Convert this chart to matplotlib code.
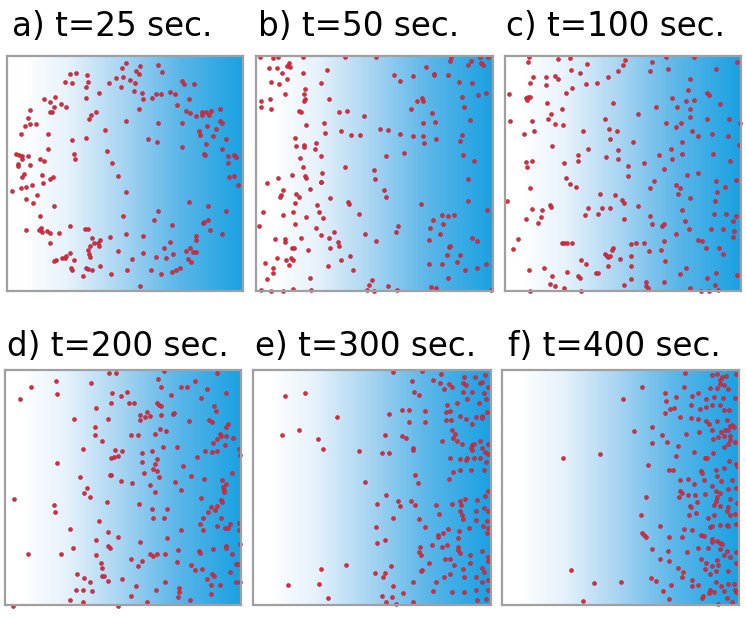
import numpy as np
import matplotlib
matplotlib.use("Agg")
import matplotlib.pyplot as plt
from matplotlib.colors import LinearSegmentedColormap

# panel titles
titles = ["a) t=25 sec.", "b) t=50 sec.", "c) t=100 sec.",
          "d) t=200 sec.", "e) t=300 sec.", "f) t=400 sec."]

# particle positions (x to the right, y downwards)
pts_a = [(378,40),(366,55),(420,48),(474,45),(410,62),(488,67),(418,72),(210,72),(228,70),(262,74),(350,83),(370,82),(392,90),(196,96),(218,98),(266,96),(328,98),(406,98),(548,92),(552,102),(584,102),(260,110),(364,112),(404,122),(428,130),(470,133),(484,133),(512,127),(526,133),(298,130),(132,146),(166,140),(150,156),(258,144),(430,146),(456,144),(568,146),(184,162),(198,172),(162,172),(156,186),(152,186),(90,180),(288,186),(274,194),(268,208),(418,178),(532,164),(560,182),(570,190),(606,186),(620,186),(634,182),(660,178),(588,198),(606,194),(628,196),(84,204),(76,228),(92,222),(108,222),(378,214),(474,220),(548,218),(622,228),(660,212),(668,220),(144,252),(64,252),(316,240),(258,264),(218,270),(446,268),(472,276),(598,244),(602,254),(648,238),(640,258),(680,268),(546,292),(620,282),(144,296),(50,312),(58,314),(66,318),(84,318),(68,326),(120,326),(132,334),(222,312),(226,326),(322,304),(614,312),(616,316),(666,298),(684,318),(704,314),(708,320),(56,342),(54,348),(92,346),(338,340),(684,338),(126,374),(72,372),(66,380),(160,380),(150,386),(356,378),(688,380),(702,376),(714,404),(38,422),(64,412),(78,410),(98,404),(130,398),(80,446),(112,434),(378,424),(100,458),(164,466),(568,454),(626,468),(678,482),(120,496),(370,498),(462,508),(474,482),(516,524),(610,518),(614,514),(626,508),(632,538),(80,538),(118,540),(124,532),(128,544),(142,542),(152,548),(178,548),(212,528),(256,536),(264,536),(332,560),(380,552),(430,556),(590,556),(588,568),(668,552),(150,578),(276,564),(300,570),(282,578),(270,586),(264,598),(296,578),(298,586),(510,574),(492,592),(520,610),(560,602),(572,592),(580,606),(588,606),(564,626),(574,634),(354,602),(430,608),(470,620),(500,624),(168,628),(164,632),(186,622),(196,622),(200,616),(212,608),(222,630),(214,652),(218,658),(268,612),(270,620),(398,626),(258,652),(264,656),(276,658),(300,648),(382,660),(454,660),(516,664),(528,660),(542,652),(334,670),(484,670),(250,678),(420,706)]

pts_b = [(30,20),(70,24),(84,22),(160,22),(286,22),(380,20),(604,22),(690,22),(714,20),(600,32),(664,34),(654,44),(694,40),(700,44),(116,40),(112,48),(120,50),(56,54),(80,54),(158,68),(232,60),(96,70),(110,86),(64,96),(86,102),(214,100),(432,74),(452,92),(490,78),(530,52),(552,72),(554,76),(596,74),(628,96),(666,100),(164,116),(162,132),(164,146),(162,152),(104,132),(34,152),(60,148),(32,172),(64,176),(238,146),(502,154),(516,144),(520,152),(636,140),(686,136),(710,130),(146,184),(152,186),(266,186),(292,184),(342,198),(484,178),(548,188),(644,172),(168,226),(222,218),(520,220),(556,216),(662,210),(274,242),(302,256),(330,256),(390,238),(414,240),(452,252),(490,258),(520,258),(524,278),(558,268),(636,256),(632,274),(226,250),(136,264),(198,278),(138,288),(162,284),(162,292),(194,298),(214,318),(410,318),(462,310),(640,314),(674,332),(150,324),(286,350),(158,352),(126,374),(164,378),(168,384),(216,368),(84,384),(50,398),(212,394),(212,396),(372,360),(374,386),(654,386),(180,416),(98,420),(92,434),(90,440),(138,430),(146,440),(240,444),(402,420),(410,440),(656,452),(134,458),(202,464),(294,456),(296,462),(514,460),(38,486),(100,494),(130,486),(168,500),(208,484),(220,504),(326,490),(576,494),(594,498),(614,494),(712,480),(26,526),(136,520),(198,534),(446,526),(550,508),(580,522),(540,534),(440,546),(212,554),(252,544),(346,552),(378,572),(570,552),(668,562),(682,572),(74,566),(106,566),(104,574),(152,564),(236,562),(264,576),(268,588),(538,570),(598,590),(602,586),(126,592),(132,594),(174,598),(240,592),(592,614),(630,614),(44,638),(80,624),(108,628),(124,624),(130,628),(274,630),(300,618),(118,644),(234,646),(538,640),(578,640),(622,636),(710,642),(70,652),(68,668),(310,660),(646,658),(682,654),(50,686),(180,682),(366,688),(596,684),(34,720),(64,722),(98,722),(128,716),(184,718),(356,704),(352,718),(372,722),(414,706),(442,718),(544,710),(560,712),(724,720)]

pts_c = [(94,20),(180,26),(218,24),(504,20),(588,22),(92,36),(268,42),(382,30),(376,44),(464,36),(458,62),(510,56),(656,56),(718,36),(220,60),(246,68),(106,80),(144,80),(172,78),(180,86),(332,80),(362,62),(578,86),(98,98),(146,104),(264,102),(298,98),(222,114),(206,128),(34,132),(84,144),(92,140),(98,140),(88,150),(570,120),(628,130),(634,134),(524,144),(566,152),(588,150),(668,162),(148,160),(346,160),(474,172),(538,170),(576,176),(192,178),(160,192),(150,206),(36,212),(104,214),(172,222),(196,224),(322,208),(420,192),(504,218),(550,220),(578,202),(628,208),(694,208),(726,220),(334,236),(358,242),(256,242),(110,242),(78,252),(536,232),(584,242),(600,258),(642,252),(692,258),(336,266),(406,276),(554,276),(162,288),(270,298),(360,300),(520,298),(724,286),(240,316),(326,322),(362,328),(484,316),(552,312),(524,326),(646,312),(84,336),(102,334),(88,352),(198,338),(242,332),(392,348),(440,340),(498,358),(696,332),(206,382),(392,378),(470,392),(568,374),(602,368),(656,392),(714,388),(218,400),(234,410),(96,414),(458,412),(534,404),(546,412),(682,410),(308,432),(352,434),(374,448),(380,458),(540,432),(576,442),(658,424),(28,452),(156,464),(160,470),(132,478),(272,472),(314,472),(336,472),(422,468),(554,478),(652,452),(102,476),(262,494),(300,492),(130,500),(84,506),(122,518),(456,498),(464,520),(492,526),(498,522),(380,506),(562,512),(574,536),(648,492),(684,492),(714,498),(706,512),(536,550),(640,536),(676,536),(708,542),(706,560),(62,566),(46,596),(194,578),(200,578),(208,578),(224,578),(416,578),(440,578),(498,572),(602,568),(612,572),(346,594),(344,598),(400,580),(454,602),(490,600),(626,594),(664,592),(676,610),(322,612),(328,618),(332,620),(336,618),(250,628),(366,626),(400,618),(502,632),(264,640),(94,660),(138,654),(208,666),(294,668),(302,668),(330,646),(400,646),(548,672),(564,652),(654,668),(718,674),(164,676),(242,678),(248,682),(400,686),(444,694),(498,694),(628,684),(158,700),(172,706),(200,712),(380,704),(444,708),(450,712),(576,712),(652,704),(98,722),(250,722),(610,722),(634,722),(660,720)]

pts_d = [(326,34),(346,34),(492,26),(652,32),(166,58),(272,64),(90,76),(544,74),(562,74),(584,56),(474,50),(484,74),(620,80),(680,94),(58,112),(168,96),(334,92),(362,102),(380,90),(386,122),(400,122),(514,98),(602,108),(332,124),(472,122),(476,128),(482,132),(644,132),(288,138),(648,146),(440,150),(420,158),(418,174),(434,166),(450,162),(482,160),(518,156),(522,152),(220,170),(322,172),(566,176),(628,174),(636,180),(684,186),(680,196),(284,196),(284,218),(392,220),(412,220),(466,216),(480,202),(498,206),(660,216),(664,222),(678,222),(652,230),(700,228),(306,238),(488,256),(532,256),(640,242),(676,248),(248,260),(344,264),(364,266),(456,266),(426,272),(616,268),(636,270),(652,266),(718,262),(722,278),(332,288),(340,286),(352,282),(592,286),(426,300),(470,290),(548,312),(464,306),(170,304),(458,322),(472,326),(430,332),(332,338),(330,340),(478,346),(572,342),(612,352),(696,332),(238,346),(362,358),(396,362),(450,370),(524,360),(666,354),(258,378),(250,394),(268,406),(464,390),(542,384),(670,374),(678,366),(672,386),(674,390),(40,412),(160,430),(162,452),(320,420),(416,428),(604,408),(664,416),(666,420),(456,442),(502,442),(610,468),(634,436),(646,444),(652,432),(624,452),(664,470),(296,478),(460,470),(492,470),(600,486),(208,502),(324,510),(352,526),(420,540),(502,530),(542,504),(610,506),(652,494),(676,498),(690,486),(684,500),(718,484),(718,504),(286,536),(218,560),(322,554),(330,560),(80,578),(182,578),(288,580),(392,592),(450,576),(458,584),(472,576),(494,576),(534,566),(598,568),(600,574),(640,562),(680,552),(680,560),(696,578),(720,548),(302,604),(306,618),(424,598),(530,600),(574,610),(710,608),(716,608),(230,638),(250,650),(304,644),(312,644),(322,658),(268,660),(366,652),(414,614),(586,626),(606,622),(620,652),(638,636),(642,642),(660,670),(690,630),(710,660),(722,660),(226,686),(246,684),(274,688),(408,672),(468,686),(496,662),(538,678),(538,692),(632,670),(632,696),(208,716),(248,720),(392,702),(440,720),(534,706),(570,714),(36,732),(354,732)]

pts_e = [(428,30),(516,28),(572,36),(642,46),(674,44),(704,40),(486,56),(548,54),(570,62),(596,66),(606,74),(638,64),(648,68),(690,64),(694,60),(712,76),(166,92),(106,102),(492,90),(508,98),(580,82),(638,90),(666,90),(702,92),(650,110),(686,122),(708,112),(590,128),(620,124),(262,166),(418,158),(456,146),(476,146),(524,148),(588,150),(600,148),(710,150),(676,166),(694,164),(696,170),(630,164),(588,174),(602,174),(646,172),(476,180),(524,180),(666,186),(98,220),(148,204),(204,232),(218,262),(406,220),(456,224),(468,230),(604,204),(614,218),(608,228),(620,238),(576,238),(634,246),(664,250),(672,248),(688,238),(714,248),(326,268),(396,274),(416,274),(488,258),(490,266),(662,258),(664,266),(694,260),(704,270),(714,278),(650,290),(646,294),(598,290),(628,292),(672,288),(690,290),(708,300),(662,326),(628,324),(608,332),(700,326),(496,340),(504,364),(596,352),(344,360),(408,400),(380,428),(444,418),(450,434),(484,418),(494,432),(556,432),(606,428),(630,420),(632,430),(644,414),(680,416),(704,404),(714,390),(628,450),(634,462),(638,472),(676,450),(702,440),(712,448),(566,458),(428,470),(508,474),(676,476),(710,478),(378,496),(524,496),(594,502),(578,516),(562,520),(564,526),(622,530),(626,508),(656,500),(698,494),(710,516),(712,500),(380,546),(404,536),(510,556),(508,572),(514,582),(546,552),(576,556),(590,552),(622,556),(624,566),(630,574),(660,582),(696,568),(714,588),(288,612),(212,624),(422,614),(404,636),(374,636),(398,648),(516,626),(512,630),(538,606),(584,594),(598,594),(610,612),(638,624),(660,606),(696,620),(700,634),(714,600),(116,672),(206,670),(490,664),(556,662),(582,648),(598,640),(640,648),(676,648),(694,662),(712,658),(234,710),(430,674),(396,704),(408,722),(426,708),(438,728),(460,696),(490,722),(548,690),(604,694),(642,692),(676,688),(714,686),(706,714),(680,718)]

pts_f = [(560,34),(640,40),(656,36),(670,46),(682,42),(664,54),(712,36),(432,74),(558,76),(500,92),(600,92),(636,78),(656,78),(664,66),(676,70),(690,80),(374,110),(504,118),(532,104),(580,102),(624,110),(648,104),(674,108),(710,108),(500,154),(514,142),(526,138),(578,130),(606,142),(622,134),(640,130),(666,128),(676,144),(692,144),(546,166),(578,168),(600,172),(622,178),(632,186),(656,178),(686,176),(694,194),(702,190),(706,196),(408,208),(460,196),(490,220),(506,240),(564,216),(602,212),(642,204),(668,212),(680,206),(690,204),(660,226),(676,224),(696,222),(696,236),(710,242),(644,232),(688,248),(462,244),(540,254),(586,270),(644,274),(676,256),(194,288),(306,276),(534,284),(620,288),(626,288),(692,298),(712,306),(716,312),(450,310),(512,326),(524,324),(608,328),(612,334),(654,326),(676,320),(546,354),(570,352),(618,356),(656,344),(668,358),(700,356),(586,368),(640,372),(546,388),(550,396),(568,400),(620,398),(654,388),(666,394),(688,384),(712,380),(444,406),(542,408),(590,402),(656,406),(694,412),(652,418),(574,434),(578,438),(596,422),(648,432),(664,434),(690,436),(716,424),(428,462),(572,462),(594,454),(628,470),(648,462),(686,450),(696,460),(710,458),(484,494),(512,528),(556,504),(582,506),(636,496),(642,494),(666,492),(686,490),(690,494),(712,488),(432,514),(436,522),(442,526),(552,528),(640,534),(640,542),(656,540),(664,546),(672,548),(608,520),(616,524),(460,564),(510,568),(566,572),(600,560),(630,560),(664,562),(686,568),(678,582),(712,572),(484,594),(512,600),(608,592),(624,604),(656,596),(694,588),(640,614),(660,610),(712,604),(218,628),(540,622),(554,634),(620,624),(654,630),(690,630),(634,638),(288,666),(368,662),(458,652),(474,660),(518,672),(550,648),(582,658),(580,676),(598,672),(654,664),(668,674),(690,670),(708,668),(676,690),(710,686),(712,694),(256,720),(494,690),(512,714),(610,710),(614,706),(636,688),(632,696),(648,694),(686,712),(700,722),(660,730)]

# domain of each box in the same units (left, right, top, bottom)
domains = [(22, 730, 18, 722), (18, 730, 18, 722), (22, 730, 18, 722),
           (12, 724, 24, 730), (10, 722, 24, 732), (12, 722, 24, 732)]

all_pts = [pts_a, pts_b, pts_c, pts_d, pts_e, pts_f]

W, H = 746, 617
fig = plt.figure(figsize=(W / 100, H / 100), dpi=100)

# box extents in pixels (x0, x1, y_top, y_bottom)
boxes = [(7, 243, 56, 291), (256, 493, 56, 291), (505, 741, 56, 291),
         (5, 241, 370, 605), (253, 491, 370, 605), (502, 739, 370, 605)]
title_pos = [(12, 36), (258, 36), (506, 36), (7, 356), (255, 356), (508, 356)]

cmap = LinearSegmentedColormap.from_list(
    "wb", ["#ffffff", "#e6f2fb", "#a9d5f2", "#5ab6e8", "#1ba1e2"])
xs = np.linspace(0, 1, 300)
grad = np.clip((xs - 0.08) / 0.92, 0, 1) ** 0.85

for i, pts in enumerate(all_pts):
    x0, x1, yt, yb = boxes[i]
    ax = fig.add_axes([x0 / W, 1 - yb / H, (x1 - x0) / W, (yb - yt) / H])
    l, r, t, b = domains[i]
    ax.imshow(grad[None, :], cmap=cmap, aspect="auto",
              extent=(l, r, b, t), vmin=0, vmax=1, zorder=0)
    p = np.array(pts)
    ax.scatter(p[:, 0], p[:, 1], s=8, c="#e8262b", edgecolors="#9a2b55",
               linewidths=0.4, zorder=2, clip_on=False)
    ax.set_xlim(l, r)
    ax.set_ylim(b, t)
    ax.set_xticks([])
    ax.set_yticks([])
    for sp in ax.spines.values():
        sp.set_color("#a0a0a0")
        sp.set_linewidth(1.6)
    tx, ty = title_pos[i]
    fig.text(tx / W, 1 - ty / H, titles[i], fontsize=23.5, family="DejaVu Sans",
             ha="left", va="baseline", color="black")

fig.savefig("out.png", dpi=100)
